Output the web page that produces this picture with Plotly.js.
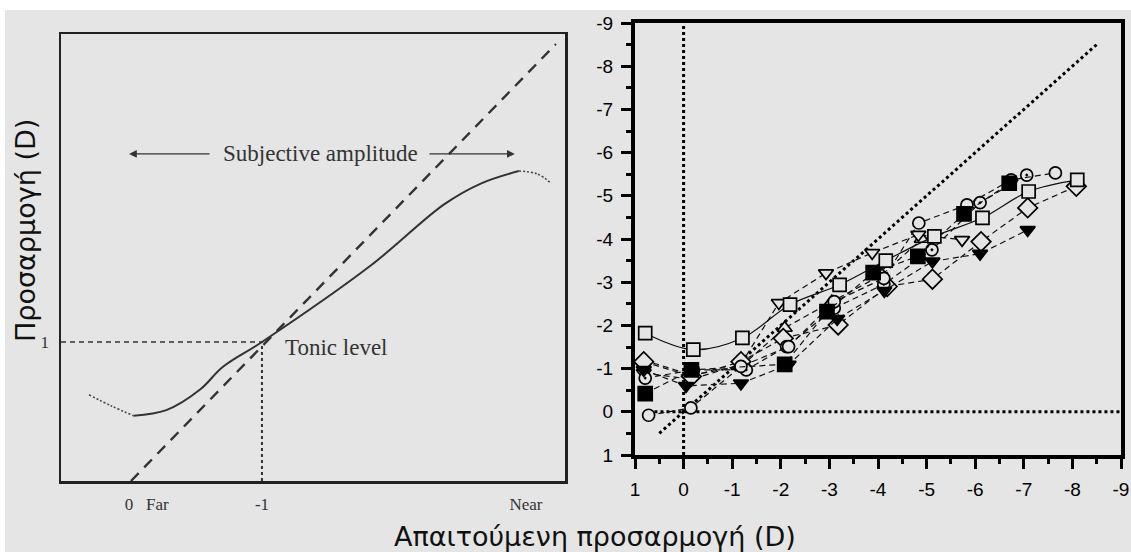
<!DOCTYPE html>
<html><head><meta charset="utf-8">
<script src="https://cdn.plot.ly/plotly-3.0.1.min.js"></script>
<style>html,body{margin:0;padding:0;background:#fff;}#chart{width:1131px;height:552px;}</style>
</head><body><div id="chart"></div>
<script>
// ---------- Left panel (schematic) ----------
const leftTickVals = [0.12, 1, 3.015];
const leftTickText = ['0   Far', '-1', 'Near'];
const leftYTickVals = [1];
const leftYTickText = ['1'];
const idealX = [0, 3.244];
const idealY = [0, 3.144];
const tonicHX = [-0.534, 1];
const tonicHY = [1, 1];
const tonicVX = [1, 1];
const tonicVY = [0, 1];
const curveStartX = [-0.32, -0.15, 0.02];
const curveStartY = [0.62, 0.54, 0.47];
const curveMidX = [0.02, 0.27, 0.53, 0.70, 1.00, 1.83, 2.39, 2.67, 2.96];
const curveMidY = [0.47, 0.51, 0.66, 0.82, 1.00, 1.55, 1.99, 2.14, 2.23];
const curveEndX = [2.96, 3.10, 3.21];
const curveEndY = [2.23, 2.21, 2.14];

// ---------- Right panel (measured data) ----------
const rTickVals = [1, 0, -1, -2, -3, -4, -5, -6, -7, -8, -9];
const rTickText = ['1', '0', '-1', '-2', '-3', '-4', '-5', '-6', '-7', '-8', '-9'];
const unityX = [0.5, -8.5];
const unityY = [0.5, -8.5];
const zeroVX = [0, 0];
const zeroVY = [1, -9];
const zeroHX = [0.6, -9];
const zeroHY = [0, 0];

const sqOpenX = [0.79, -0.20, -1.21, -2.19, -3.21, -4.16, -5.16, -6.15, -7.10, -8.10];
const sqOpenY = [-1.82, -1.44, -1.71, -2.48, -2.94, -3.50, -4.06, -4.49, -5.10, -5.37];
const sqFillX = [0.79, -0.16, -2.08, -2.95, -3.90, -4.82, -5.77, -6.70];
const sqFillY = [-0.42, -0.97, -1.10, -2.32, -3.22, -3.60, -4.58, -5.29];
const triDnFillX = [0.82, -0.05, -1.18, -2.16, -3.16, -4.13, -5.12, -6.10, -7.08];
const triDnFillY = [-0.97, -0.60, -0.66, -1.09, -2.15, -2.80, -3.48, -3.66, -4.21];
const diaOpenX = [0.82, -0.16, -1.18, -2.05, -3.18, -4.19, -5.12, -6.12, -7.08, -8.08];
const diaOpenY = [-1.16, -0.82, -1.16, -1.70, -2.01, -2.90, -3.07, -3.94, -4.72, -5.22];
const circOpenX = [0.72, -0.15, -1.18, -2.16, -3.10, -4.12, -4.84, -5.83, -6.74, -7.65];
const circOpenY = [0.08, -0.09, -1.05, -1.51, -2.55, -3.09, -4.37, -4.79, -5.37, -5.53];
const circDotX = [0.79, -0.20, -1.29, -2.12, -3.10, -4.12, -5.11, -6.10, -7.06];
const circDotY = [-0.78, -0.97, -0.97, -1.51, -2.40, -2.95, -3.75, -4.84, -5.48];
const triDnOpenX = [0.82, -0.16, -1.18, -1.96, -2.93, -3.88, -4.83, -5.73];
const triDnOpenY = [-0.90, -0.75, -1.10, -2.52, -3.21, -3.68, -4.10, -3.98];
const triUpOpenX = [0.82, -0.16, -1.18, -2.08, -3.05, -4.08, -4.90];
const triUpOpenY = [-1.20, -0.85, -1.05, -1.94, -2.55, -3.17, -4.00];

const BG = '#e5e5e5';
const dashPat = '6px,4px';

function series(x, y, symbol, size, filled, solid) {
  return {
    x: x, y: y, xaxis: 'x2', yaxis: 'y2', type: 'scatter', mode: 'lines+markers',
    line: {color: '#111', width: 1.2, dash: solid ? 'solid' : dashPat, shape: solid ? 'spline' : 'linear'},
    marker: {symbol: symbol, size: size, color: filled ? '#000' : BG, line: {color: '#000', width: 1.7}},
    hoverinfo: 'skip'
  };
}
function refLine(x, y, xa, ya, color, width, dash, shape) {
  return {x: x, y: y, xaxis: xa, yaxis: ya, type: 'scatter', mode: 'lines',
    line: {color: color, width: width, dash: dash, shape: shape || 'linear'}, hoverinfo: 'skip'};
}

const traces = [
  refLine(idealX, idealY, 'x', 'y', '#333', 2.4, '11px,8px'),
  refLine(tonicHX, tonicHY, 'x', 'y', '#333', 1.5, '5px,4px'),
  refLine(tonicVX, tonicVY, 'x', 'y', '#333', 2, 'dot'),
  refLine(curveStartX, curveStartY, 'x', 'y', '#444', 1.6, '2px,2px', 'spline'),
  refLine(curveMidX, curveMidY, 'x', 'y', '#333', 2, 'solid', 'spline'),
  refLine(curveEndX, curveEndY, 'x', 'y', '#444', 1.6, '2px,2px', 'spline'),

  refLine(unityX, unityY, 'x2', 'y2', '#000', 3, 'dot'),
  refLine(zeroVX, zeroVY, 'x2', 'y2', '#000', 3, 'dot'),
  refLine(zeroHX, zeroHY, 'x2', 'y2', '#000', 3, 'dot'),

  series(triUpOpenX, triUpOpenY, 'triangle-up', 13, false, false),
  series(triDnOpenX, triDnOpenY, 'triangle-down', 13, false, false),
  series(diaOpenX, diaOpenY, 'diamond', 15, false, false),
  series(circDotX, circDotY, 'circle-dot', 12, false, false),
  series(circOpenX, circOpenY, 'circle', 12, false, false),
  series(triDnFillX, triDnFillY, 'triangle-down', 13, true, false),
  series(sqFillX, sqFillY, 'square', 14, true, false),
  series(sqOpenX, sqOpenY, 'square', 13, false, true)
];

const W = 1131, H = 552;
const layout = {
  width: W, height: H,
  margin: {l: 0, r: 0, t: 0, b: 0},
  paper_bgcolor: '#ffffff',
  plot_bgcolor: 'rgba(0,0,0,0)',
  showlegend: false,
  hovermode: false,
  shapes: [{type: 'rect', xref: 'paper', yref: 'paper', x0: 5 / W, x1: 1, y0: 0, y1: 1 - 10 / H,
    fillcolor: BG, line: {width: 0}, layer: 'below'}],
  xaxis: {
    domain: [61 / W, 565 / W], range: [-0.534, 3.313], anchor: 'y',
    showline: true, mirror: true, linewidth: 2.5, linecolor: '#222',
    showgrid: false, zeroline: false, ticks: '',
    tickmode: 'array', tickvals: leftTickVals, ticktext: leftTickText,
    tickfont: {family: 'Liberation Serif', size: 17, color: '#333'}, ticklabelstandoff: 6
  },
  yaxis: {
    domain: [1 - 481 / H, 1 - 34 / H], range: [0, 3.216], anchor: 'x',
    showline: true, mirror: true, linewidth: 2.5, linecolor: '#222',
    showgrid: false, zeroline: false, ticks: '',
    tickmode: 'array', tickvals: leftYTickVals, ticktext: leftYTickText,
    tickfont: {family: 'Liberation Serif', size: 17, color: '#333'}, ticklabelstandoff: 6
  },
  xaxis2: {
    domain: [635 / W, 1121 / W], range: [1, -9], anchor: 'y2',
    showline: true, mirror: true, linewidth: 4, linecolor: '#000',
    showgrid: false, zeroline: false,
    ticks: 'outside', ticklen: 10, tickwidth: 3, tickcolor: '#000',
    tickmode: 'array', tickvals: rTickVals, ticktext: rTickText,
    minor: {ticks: 'outside', ticklen: 5, tickwidth: 3, tickcolor: '#000', tickmode: 'linear', tick0: 0.5, dtick: 1, showgrid: false},
    tickfont: {family: 'Liberation Sans', size: 19, color: '#000'}, ticklabelstandoff: 4
  },
  yaxis2: {
    domain: [1 - 455 / H, 1 - 23 / H], range: [1, -9], anchor: 'x2',
    showline: true, mirror: true, linewidth: 4, linecolor: '#000',
    showgrid: false, zeroline: false,
    ticks: 'outside', ticklen: 10, tickwidth: 3, tickcolor: '#000',
    tickmode: 'array', tickvals: rTickVals, ticktext: rTickText,
    minor: {ticks: 'outside', ticklen: 5, tickwidth: 3, tickcolor: '#000', tickmode: 'linear', tick0: 0.5, dtick: 1, showgrid: false},
    tickfont: {family: 'Liberation Sans', size: 19, color: '#000'}, ticklabelstandoff: 4
  },
  annotations: [
    {xref: 'x', yref: 'y', x: 1.45, y: 2.353, text: 'Subjective amplitude', showarrow: false,
     font: {family: 'Liberation Serif', size: 23, color: '#333'}},
    {xref: 'x', yref: 'y', x: -0.015, y: 2.353, ax: 0.611, ay: 2.353, axref: 'x', ayref: 'y', text: '',
     showarrow: true, arrowhead: 2, arrowsize: 1.2, arrowwidth: 1.3, arrowcolor: '#333'},
    {xref: 'x', yref: 'y', x: 2.93, y: 2.353, ax: 2.267, ay: 2.353, axref: 'x', ayref: 'y', text: '',
     showarrow: true, arrowhead: 2, arrowsize: 1.2, arrowwidth: 1.3, arrowcolor: '#333'},
    {xref: 'x', yref: 'y', x: 1.16, y: 0.957, xanchor: 'left', yanchor: 'middle', text: 'Tonic level', showarrow: false,
     font: {family: 'Liberation Serif', size: 23, color: '#333'}},
    {xref: 'paper', yref: 'paper', x: 26 / W, y: 1 - 231 / H, xanchor: 'center', yanchor: 'middle', textangle: -90,
     text: 'Προσαρμογή (D)', showarrow: false, font: {family: 'DejaVu Sans', size: 27, color: '#111'}},
    {xref: 'paper', yref: 'paper', x: 595 / W, y: 1 - 536 / H, xanchor: 'center', yanchor: 'middle',
     text: 'Απαιτούμενη προσαρμογή (D)', showarrow: false, font: {family: 'DejaVu Sans', size: 27, color: '#111'}}
  ]
};

Plotly.newPlot('chart', traces, layout, {staticPlot: true, displayModeBar: false});
</script>
</body></html>
